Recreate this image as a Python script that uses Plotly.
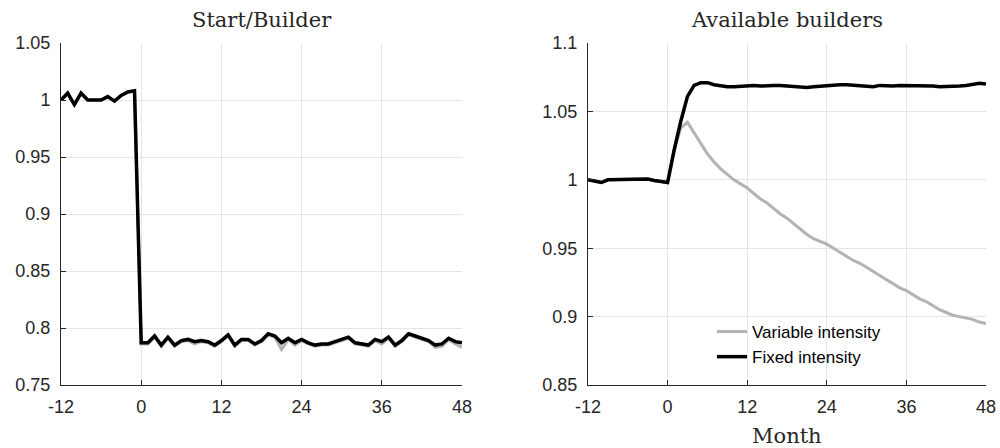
import plotly.graph_objects as go

months = list(range(-12, 49))

# Left panel: Start/Builder
start_fixed = [1.000, 1.006, 0.996, 1.006, 1.000, 1.000, 1.000, 1.003, 0.999, 1.004, 1.007, 1.008,
               0.787, 0.787, 0.793, 0.785, 0.792, 0.785, 0.789, 0.790, 0.788, 0.789,
               0.788, 0.785, 0.789, 0.794, 0.785, 0.790, 0.790, 0.786, 0.789, 0.795,
               0.793, 0.787, 0.791, 0.787, 0.790, 0.787, 0.785, 0.786, 0.786, 0.788,
               0.790, 0.792, 0.787, 0.786, 0.785, 0.790, 0.788, 0.792, 0.785, 0.789,
               0.795, 0.793, 0.791, 0.789, 0.785, 0.786, 0.791, 0.788, 0.787]
start_variable = [1.000, 1.006, 0.996, 1.006, 1.000, 1.000, 1.000, 1.003, 0.999, 1.004, 1.007, 1.008,
                  0.786, 0.786, 0.792, 0.784, 0.791, 0.784, 0.788, 0.789, 0.786, 0.788,
                  0.787, 0.784, 0.788, 0.793, 0.784, 0.789, 0.789, 0.785, 0.788, 0.794,
                  0.792, 0.781, 0.790, 0.785, 0.789, 0.786, 0.784, 0.785, 0.785, 0.787,
                  0.789, 0.791, 0.786, 0.785, 0.784, 0.789, 0.786, 0.791, 0.784, 0.788,
                  0.794, 0.792, 0.790, 0.788, 0.783, 0.784, 0.790, 0.786, 0.783]

# Right panel: Available builders
avail_fixed = [1.000, 0.999, 0.998, 1.000, 1.000, 1.000, 1.0005, 1.0005, 1.000, 1.0005, 0.9995, 0.999,
               0.998, 1.022, 1.043, 1.061, 1.069, 1.071, 1.071, 1.0695, 1.0685, 1.068,
               1.068, 1.0685, 1.069, 1.069, 1.0685, 1.069, 1.069, 1.069, 1.0685, 1.068,
               1.0675, 1.0675, 1.068, 1.0685, 1.069, 1.069, 1.0695, 1.0695, 1.069, 1.069,
               1.0685, 1.068, 1.069, 1.0685, 1.0685, 1.069, 1.069, 1.0685, 1.069, 1.069,
               1.0685, 1.068, 1.068, 1.068, 1.0685, 1.069, 1.070, 1.0705, 1.070]
avail_variable = [1.000, 0.999, 0.998, 1.000, 1.000, 1.000, 1.0005, 1.0005, 1.000, 1.0005, 0.9995, 0.999,
                  0.998, 1.022, 1.038, 1.042, 1.034, 1.026, 1.019, 1.013, 1.008, 1.004,
                  1.000, 0.997, 0.994, 0.990, 0.986, 0.983, 0.979, 0.975, 0.972, 0.968,
                  0.964, 0.960, 0.957, 0.955, 0.953, 0.950, 0.947, 0.944, 0.941, 0.939,
                  0.936, 0.933, 0.930, 0.927, 0.924, 0.921, 0.919, 0.916, 0.913, 0.911,
                  0.908, 0.905, 0.903, 0.901, 0.900, 0.899, 0.898, 0.896, 0.895]

x_ticks = [-12, 0, 12, 24, 36, 48]
left_yticks = [0.75, 0.8, 0.85, 0.9, 0.95, 1.0, 1.05]
left_ylabels = ["0.75", "0.8", "0.85", "0.9", "0.95", "1", "1.05"]
right_yticks = [0.85, 0.9, 0.95, 1.0, 1.05, 1.1]
right_ylabels = ["0.85", "0.9", "0.95", "1", "1.05", "1.1"]

GRAY = "#b3b3b3"
BLACK = "#000000"
W, H = 1000, 448
tick_font = dict(family="Liberation Sans, Arial, sans-serif", size=18, color="#262626")
title_font = dict(family="DejaVu Serif, serif", size=21, color="#262626")

fig = go.Figure()
fig.add_trace(go.Scatter(x=months, y=start_variable, mode="lines", line=dict(color=GRAY, width=3),
                         xaxis="x", yaxis="y", showlegend=False))
fig.add_trace(go.Scatter(x=months, y=start_fixed, mode="lines", line=dict(color=BLACK, width=3.5),
                         xaxis="x", yaxis="y", showlegend=False))
fig.add_trace(go.Scatter(x=months, y=avail_variable, mode="lines", line=dict(color=GRAY, width=3),
                         xaxis="x2", yaxis="y2", name="Variable intensity"))
fig.add_trace(go.Scatter(x=months, y=avail_fixed, mode="lines", line=dict(color=BLACK, width=3.5),
                         xaxis="x2", yaxis="y2", name="Fixed intensity"))

y_dom = [(H - 385) / H, (H - 43) / H]
common_x = dict(range=[-12, 48], tickvals=x_ticks, ticktext=[str(t) for t in x_ticks],
                showgrid=True, gridcolor="#e5e5e5", gridwidth=1, zeroline=False,
                showline=True, linecolor="#262626", linewidth=1, mirror=False,
                ticks="inside", ticklen=5, tickcolor="#262626", tickfont=tick_font,
                ticklabelstandoff=5, automargin=False)
common_y = dict(showgrid=True, gridcolor="#e5e5e5", gridwidth=1, zeroline=False,
                showline=True, linecolor="#262626", linewidth=1, mirror=False,
                ticks="inside", ticklen=5, tickcolor="#262626", tickfont=tick_font,
                ticklabelstandoff=6, automargin=False)

fig.update_layout(
    width=W, height=H,
    margin=dict(l=0, r=0, t=0, b=0, autoexpand=False),
    paper_bgcolor="white", plot_bgcolor="white",
    xaxis=dict(domain=[61 / W, 462 / W], anchor="y", **common_x),
    yaxis=dict(domain=y_dom, anchor="x", range=[0.75, 1.05], tickvals=left_yticks,
               ticktext=left_ylabels, **common_y),
    xaxis2=dict(domain=[588 / W, 986 / W], anchor="y2", **common_x),
    yaxis2=dict(domain=y_dom, anchor="x2", range=[0.85, 1.1], tickvals=right_yticks,
                ticktext=right_ylabels, **common_y),
    legend=dict(x=712 / W, y=(H - 314) / H, xanchor="left", yanchor="top",
                bgcolor="rgba(255,255,255,0)", borderwidth=0,
                font=dict(family="Liberation Sans, Arial, sans-serif", size=17, color="#000000"),
                tracegroupgap=0, itemwidth=30),
    annotations=[
        dict(text="Start/Builder", x=(61 + 462) / 2 / W, y=1 - 20 / H, xref="paper", yref="paper",
             showarrow=False, font=title_font, xanchor="center", yanchor="middle"),
        dict(text="Available builders", x=(588 + 986) / 2 / W, y=1 - 20 / H, xref="paper", yref="paper",
             showarrow=False, font=title_font, xanchor="center", yanchor="middle"),
        dict(text="Month", x=(588 + 986) / 2 / W, y=1 - 436 / H, xref="paper", yref="paper",
             showarrow=False, font=title_font, xanchor="center", yanchor="middle"),
    ],
)

fig.write_html("out.html")
